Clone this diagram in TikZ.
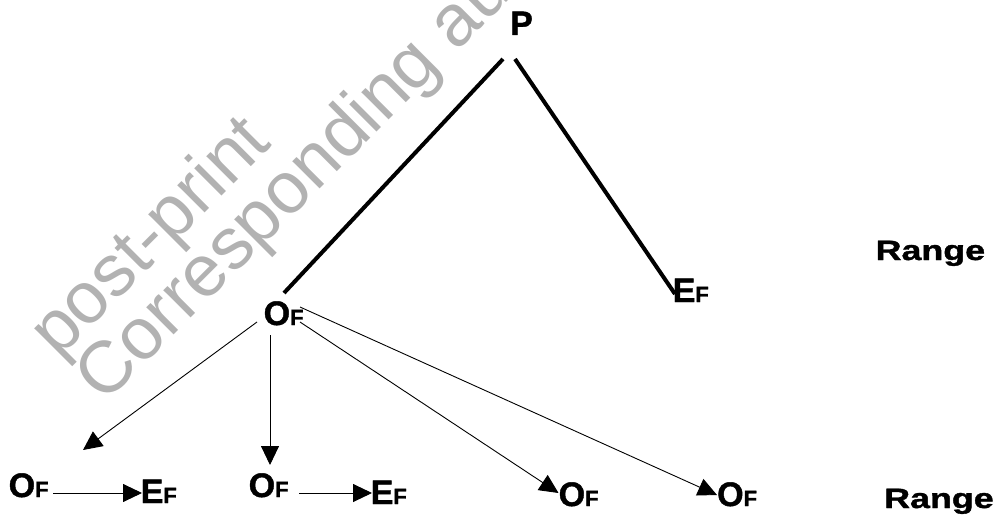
\documentclass[tikz,border=0pt]{standalone}
\usepackage{fontspec}
\usepackage{graphicx}
\setmainfont{Liberation Sans}[BoldFeatures={FakeBold=1.2}]
\usetikzlibrary{arrows.meta}
\newcommand{\smallF}{{\fontsize{22}{22}\selectfont F}}
\newcommand{\rangetxt}{\scalebox{1.28}[1]{\fontsize{28}{28}\selectfont\bfseries Range}}
\begin{document}
\begin{tikzpicture}[x=1pt,y=-1pt,
  lbl/.style={inner sep=0pt, anchor=base west, font=\fontsize{34}{34}\selectfont\bfseries},
  wm/.style={inner sep=0pt, anchor=base west, rotate=45, text=black!30, font=\fontsize{73}{73}\selectfont},
  heavy/.style={line width=4pt},
  arr/.style={line width=0.9pt, -{Triangle[length=19pt,width=18pt]}}]
\useasboundingbox (0,0) rectangle (996,524);
\clip (0,0) rectangle (996,524);
% watermark
\node[wm] (wm1) at (58,360) {post-print};
\node[wm] (wm2) at (104,405) {Corresponding aut};
% labels
\node[lbl] (P) at (510,35) {P};
\node[lbl] (O0) at (263.5,325) {O\smallF};
\node[lbl] (E0) at (672.5,302) {E\smallF};
\node[lbl] (R1) at (875.4,260) {\rangetxt};
\node[lbl] (O1) at (8.5,497) {O\smallF};
\node[lbl] (E1) at (140.5,503) {E\smallF};
\node[lbl] (O2) at (248.5,497) {O\smallF};
\node[lbl] (E2) at (370.5,504) {E\smallF};
\node[lbl] (O3) at (558.5,506) {O\smallF};
\node[lbl] (O4) at (717,506) {O\smallF};
\node[lbl] (R2) at (884,508) {\rangetxt};
% thick tree lines
\draw[heavy] ([shift={(-7,24)}]P.base west) -- ([shift={(20.5,-32)}]O0.base west);
\draw[heavy] ([shift={(5,24)}]P.base west) -- ([shift={(2.5,-8)}]E0.base west);
% arrows from O0
\draw[arr] ([shift={(-6.5,-3)}]O0.base west) -- ([shift={(74.5,-47)}]O1.base west);
\draw[arr] ([shift={(6.5,10)}]O0.base west) -- ([shift={(21.5,-32)}]O2.base west);
\draw[arr] ([shift={(36.5,-3)}]O0.base west) -- ([shift={(0,-13)}]O3.base west);
\draw[arr] ([shift={(36.5,-18)}]O0.base west) -- ([shift={(0,-11)}]O4.base west);
% horizontal arrows
\draw[arr] ([shift={(44.5,-4)}]O1.base west) -- ([shift={(1.5,-10)}]E1.base west);
\draw[arr] ([shift={(50.5,-4)}]O2.base west) -- ([shift={(1.5,-11)}]E2.base west);
\end{tikzpicture}
\end{document}
